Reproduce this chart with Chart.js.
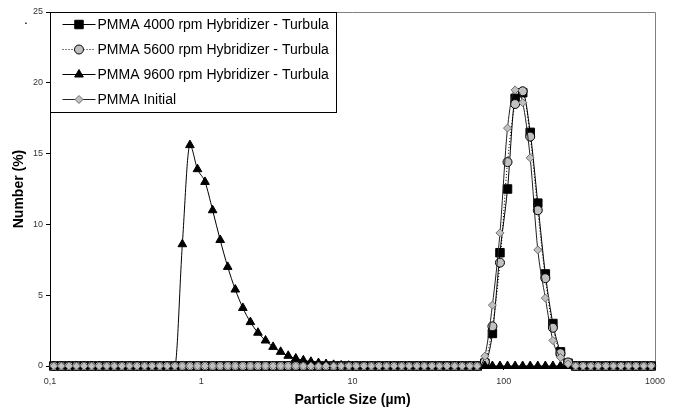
<!DOCTYPE html>
<html>
<head>
<meta charset="utf-8">
<script src="https://cdn.jsdelivr.net/npm/chart.js@4"></script>
<style>
  html, body { margin: 0; padding: 0; background: #fff; }
</style>
</head>
<body>
<canvas id="psdChart" width="673" height="412"></canvas>
<script>
// Size classes (bin centres, µm) - 20 classes per decade
const sizes = [
  0.1059, 0.1189, 0.1334, 0.1496, 0.1679, 0.1884, 0.2113, 0.2371, 0.2661, 0.2985, 0.3350, 0.3758, 0.4217, 0.4732, 0.5309, 0.5957, 0.6683, 0.7499, 0.8414, 0.9441,
  1.059, 1.189, 1.334, 1.496, 1.679, 1.884, 2.113, 2.371, 2.661, 2.985, 3.350, 3.758, 4.217, 4.732, 5.309, 5.957, 6.683, 7.499, 8.414, 9.441,
  10.59, 11.89, 13.34, 14.96, 16.79, 18.84, 21.13, 23.71, 26.61, 29.85, 33.50, 37.58, 42.17, 47.32, 53.09, 59.57, 66.83, 74.99, 84.14, 94.41,
  105.9, 118.9, 133.4, 149.6, 167.9, 188.4, 211.3, 237.1, 266.1, 298.5, 335.0, 375.8, 421.7, 473.2, 530.9, 595.7, 668.3, 749.9, 841.4, 944.1
];

// Number (%) per size class
const pmma4000 = [
  0, 0, 0, 0, 0, 0, 0, 0, 0, 0, 0, 0, 0, 0, 0, 0, 0, 0, 0, 0,
  0, 0, 0, 0, 0, 0, 0, 0, 0, 0, 0, 0, 0, 0, 0, 0, 0, 0, 0, 0,
  0, 0, 0, 0, 0, 0, 0, 0, 0, 0, 0, 0, 0, 0, 0, 0, 0, 0.2, 2.3, 8.0,
  12.5, 18.9, 19.3, 16.5, 11.5, 6.5, 3.0, 1.0, 0.2, 0, 0, 0, 0, 0, 0, 0, 0, 0, 0, 0
];
const pmma5600 = [
  0, 0, 0, 0, 0, 0, 0, 0, 0, 0, 0, 0, 0, 0, 0, 0, 0, 0, 0, 0,
  0, 0, 0, 0, 0, 0, 0, 0, 0, 0, 0, 0, 0, 0, 0, 0, 0, 0, 0, 0,
  0, 0, 0, 0, 0, 0, 0, 0, 0, 0, 0, 0, 0, 0, 0, 0, 0, 0.3, 2.8, 7.3,
  14.4, 18.5, 19.4, 16.2, 11.0, 6.2, 2.7, 0.9, 0.25, 0, 0, 0, 0, 0, 0, 0, 0, 0, 0, 0
];
const pmma9600 = [
  0, 0, 0, 0, 0, 0, 0, 0, 0, 0, 0, 0, 0, 0, 0, 0, 0, 8.6, 15.6, 13.9,
  13.0, 11.0, 8.9, 7.0, 5.4, 4.1, 3.1, 2.35, 1.8, 1.35, 1.0, 0.72, 0.53, 0.4, 0.3, 0.21, 0.14, 0.08, 0.04, 0.02,
  0, 0, 0, 0, 0, 0, 0, 0, 0, 0, 0, 0, 0, 0, 0, 0, 0, 0, 0, 0,
  0, 0, 0, 0, 0, 0, 0, 0, 0, 0, 0, 0, 0, 0, 0, 0, 0, 0, 0, 0
];
const pmmaInitial = [
  0, 0, 0, 0, 0, 0, 0, 0, 0, 0, 0, 0, 0, 0, 0, 0, 0, 0, 0, 0,
  0, 0, 0, 0, 0, 0, 0, 0, 0, 0, 0, 0, 0, 0, 0, 0, 0, 0, 0, 0,
  0, 0, 0, 0, 0, 0, 0, 0, 0, 0, 0, 0, 0, 0, 0, 0, 0, 0.7, 4.3, 9.4,
  16.8, 19.5, 18.6, 14.7, 8.2, 4.8, 1.8, 0.6, 0.15, 0, 0, 0, 0, 0, 0, 0, 0, 0, 0, 0
];

const seriesNames = [
  'PMMA 4000 rpm Hybridizer - Turbula',
  'PMMA 5600 rpm Hybridizer - Turbula',
  'PMMA 9600 rpm Hybridizer - Turbula',
  'PMMA Initial'
];

const xTickValues = [0.1, 1, 10, 100, 1000];
const xTickLabels = ['0,1', '1', '10', '100', '1000'];

const FONT = '"Liberation Sans", Arial, sans-serif';

const toPoints = vals => vals.map((v, i) => ({ x: sizes[i], y: v }));

// marker drawing for the legend
function drawMarker(ctx, style, x, y, r, fill, stroke) {
  ctx.beginPath();
  if (style === 'rect') {
    const s = r * Math.SQRT1_2;
    ctx.rect(x - s, y - s, 2 * s, 2 * s);
  } else if (style === 'circle') {
    ctx.arc(x, y, r, 0, Math.PI * 2);
  } else if (style === 'triangle') {
    ctx.moveTo(x, y - r);
    ctx.lineTo(x + r * 0.866, y + r * 0.5);
    ctx.lineTo(x - r * 0.866, y + r * 0.5);
    ctx.closePath();
  } else if (style === 'rectRot') {
    ctx.moveTo(x, y - r);
    ctx.lineTo(x + r, y);
    ctx.lineTo(x, y + r);
    ctx.lineTo(x - r, y);
    ctx.closePath();
  }
  ctx.fillStyle = fill;
  ctx.fill();
  ctx.lineWidth = 1;
  ctx.strokeStyle = stroke;
  ctx.stroke();
}

const framePlugin = {
  id: 'frame',
  beforeDatasetsDraw(chart) {
    const { ctx, chartArea: a } = chart;
    ctx.save();
    ctx.strokeStyle = '#808080';
    ctx.lineWidth = 1;
    ctx.beginPath();
    ctx.moveTo(a.left, Math.round(a.top) + 0.5);
    ctx.lineTo(Math.round(a.right) + 0.5, Math.round(a.top) + 0.5);
    ctx.lineTo(Math.round(a.right) + 0.5, a.bottom);
    ctx.stroke();
    ctx.restore();
  },
  afterDraw(chart) {
    const { ctx, chartArea: a } = chart;
    const dsets = chart.data.datasets;
    ctx.save();
    ctx.font = '14px ' + FONT;
    const left = Math.round(a.left) + 0.5;
    const top = Math.round(a.top) + 0.5;
    const textX = left + 47;
    let maxW = 0;
    dsets.forEach(d => { maxW = Math.max(maxW, ctx.measureText(d.label).width); });
    const w = Math.round(textX + maxW + 8 - left);
    const h = 100;
    ctx.fillStyle = '#fff';
    ctx.fillRect(left, top, w, h);
    ctx.strokeStyle = '#000';
    ctx.lineWidth = 1;
    ctx.strokeRect(left, top, w, h);

    dsets.forEach((d, i) => {
      const yc = top + 12 + 25 * i;
      ctx.beginPath();
      ctx.setLineDash(d.borderDash || []);
      ctx.strokeStyle = d.borderColor;
      ctx.lineWidth = 1;
      ctx.moveTo(left + 12, yc);
      ctx.lineTo(left + 45, yc);
      ctx.stroke();
      ctx.setLineDash([]);
      drawMarker(ctx, d.pointStyle, left + 28.5, yc, d.pointRadius, d.pointBackgroundColor, d.pointBorderColor);
      ctx.fillStyle = '#000';
      ctx.textBaseline = 'middle';
      ctx.textAlign = 'left';
      ctx.fillText(d.label, textX, yc + 1);
    });

    // stray dot in the top-left corner of the original figure
    ctx.font = '14px ' + FONT;
    ctx.fillText('.', 24, 20);
    ctx.restore();
  }
};

const ctx = document.getElementById('psdChart').getContext('2d');
const psdChart = new Chart(ctx, {
  type: 'line',
  data: {
    datasets: [
      {
        label: seriesNames[0],
        data: toPoints(pmma4000),
        borderColor: '#000',
        borderWidth: 1,
        pointStyle: 'rect',
        pointRadius: 6,
        pointBackgroundColor: '#000',
        pointBorderColor: '#000',
        pointBorderWidth: 1,
        order: 3
      },
      {
        label: seriesNames[1],
        data: toPoints(pmma5600),
        borderColor: '#000',
        borderWidth: 1,
        borderDash: [1, 2],
        pointStyle: 'circle',
        pointRadius: 4.5,
        pointBackgroundColor: '#c0c0c0',
        pointBorderColor: '#000',
        pointBorderWidth: 1,
        order: 2
      },
      {
        label: seriesNames[2],
        data: toPoints(pmma9600),
        borderColor: '#000',
        borderWidth: 1,
        pointStyle: 'triangle',
        pointRadius: 5,
        pointBackgroundColor: '#000',
        pointBorderColor: '#000',
        pointBorderWidth: 1,
        order: 1
      },
      {
        label: seriesNames[3],
        data: toPoints(pmmaInitial),
        borderColor: '#222',
        borderWidth: 1,
        pointStyle: 'rectRot',
        pointRadius: 4,
        pointBackgroundColor: '#c0c0c0',
        pointBorderColor: '#6e6e6e',
        pointBorderWidth: 1,
        order: 0
      }
    ]
  },
  options: {
    responsive: false,
    animation: false,
    clip: false,
    layout: { padding: { left: 0, right: 18, top: 12, bottom: 0 } },
    elements: { line: { tension: 0, cubicInterpolationMode: 'monotone' } },
    plugins: {
      legend: { display: false },
      tooltip: { enabled: false }
    },
    scales: {
      x: {
        type: 'logarithmic',
        min: 0.1,
        max: 1000,
        afterBuildTicks: s => { s.ticks = xTickValues.map(v => ({ value: v })); },
        afterFit: s => { s.height = 46; },
        ticks: {
          autoSkip: false,
          maxRotation: 0,
          padding: 6,
          color: '#333',
          font: { family: FONT, size: 9 },
          callback: (v, i) => xTickLabels[i]
        },
        grid: { drawOnChartArea: false, tickLength: 4, color: '#000' },
        border: { color: '#000', width: 1 },
        title: {
          display: true,
          text: 'Particle Size (µm)',
          color: '#000',
          font: { family: FONT, size: 14, weight: 'bold' },
          padding: { top: 0, bottom: 3 }
        }
      },
      y: {
        min: 0,
        max: 25,
        afterFit: s => { s.width = 50; },
        ticks: {
          stepSize: 5,
          padding: 3,
          color: '#333',
          font: { family: FONT, size: 9 }
        },
        grid: { drawOnChartArea: false, tickLength: 4, color: '#000' },
        border: { color: '#000', width: 1 },
        title: {
          display: true,
          text: 'Number (%)',
          color: '#000',
          font: { family: FONT, size: 14, weight: 'bold' },
          padding: { top: 11, bottom: 0 }
        }
      }
    }
  },
  plugins: [framePlugin]
});
</script>
</body>
</html>
